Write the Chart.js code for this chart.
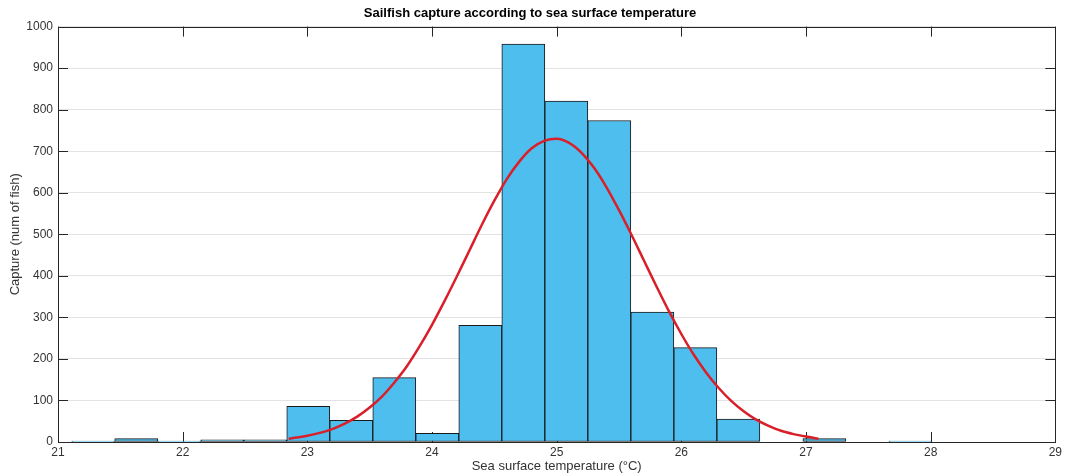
<!DOCTYPE html>
<html>
<head>
<meta charset="utf-8">
<script src="https://cdn.jsdelivr.net/npm/chart.js@4/dist/chart.umd.min.js"></script>
<style>
  body { margin: 0; background: #fff; }
  #wrap { width: 1065px; height: 476px; position: relative; }
</style>
</head>
<body>
<div id="wrap"><canvas id="chart"></canvas></div>
<script>
// histogram bin edges (°C) and counts per bin
const binEdges = [21.11, 21.455, 21.80, 22.145, 22.49, 22.835, 23.18, 23.525, 23.87, 24.215,
                  24.56, 24.905, 25.25, 25.595, 25.94, 26.285, 26.63, 26.975, 27.32, 27.665, 28.01];
const captureCounts = [2, 8, 2, 5, 5, 86, 52, 155, 21, 281, 958, 821, 774, 313, 227, 55, 0, 8, 0, 2];

// fitted curve
const curveX = [22.85, 22.9, 23.0, 23.1, 23.2, 23.3, 23.4, 23.5, 23.6, 23.7, 23.8, 23.9,
                24.0, 24.1, 24.2, 24.3, 24.4, 24.5, 24.6, 24.7, 24.8, 24.9,
                25.0, 25.1, 25.2, 25.3, 25.4, 25.5, 25.6, 25.7, 25.8, 25.9,
                26.0, 26.1, 26.2, 26.3, 26.4, 26.5, 26.6, 26.7, 26.8, 26.9, 27.0, 27.1];
const curveY = [8, 10, 15, 22, 31, 44, 61, 83, 110, 144, 183, 230,
                282, 339, 399, 461, 523, 581, 633, 675, 707, 725,
                730, 720, 696, 660, 613, 558, 499, 437, 375, 315,
                260, 210, 167, 130, 99, 74, 54, 39, 27, 19, 13, 8];

const xTicks = [21, 22, 23, 24, 25, 26, 27, 28, 29];
const yTicks = [0, 100, 200, 300, 400, 500, 600, 700, 800, 900, 1000];

const txt = '#333333';
const fontFam = '"Liberation Sans", Arial, Helvetica, sans-serif';

const barData = captureCounts.map((c, i) => ({ x: (binEdges[i] + binEdges[i + 1]) / 2, y: c }));
const lineData = curveX.map((x, i) => ({ x: x, y: curveY[i] }));

// MATLAB-like box with inward ticks on all sides
const boxTicks = {
  id: 'boxTicks',
  beforeDatasetsDraw(chart) {
    const { ctx, chartArea: a, scales: { x, y } } = chart;
    const len = 10;
    ctx.save();
    ctx.strokeStyle = '#262626';
    ctx.lineWidth = 1;
    ctx.beginPath();
    xTicks.forEach(v => {
      const px = Math.round(x.getPixelForValue(v)) + 0.5;
      ctx.moveTo(px, a.bottom); ctx.lineTo(px, a.bottom - len);
      ctx.moveTo(px, a.top); ctx.lineTo(px, a.top + len);
    });
    yTicks.forEach(v => {
      const py = Math.round(y.getPixelForValue(v)) + 0.5;
      ctx.moveTo(a.left, py); ctx.lineTo(a.left + len, py);
      ctx.moveTo(a.right, py); ctx.lineTo(a.right - len, py);
    });
    ctx.stroke();
    ctx.restore();
  },
  afterDatasetsDraw(chart) {
    const { ctx, chartArea: a } = chart;
    ctx.save();
    ctx.strokeStyle = '#262626';
    ctx.lineWidth = 1;
    ctx.strokeRect(Math.round(a.left) + 0.5, Math.round(a.top) + 0.5,
                   Math.round(a.right - a.left), Math.round(a.bottom - a.top));
    ctx.restore();
  }
};

new Chart(document.getElementById('chart'), {
  type: 'bar',
  data: {
    datasets: [
      {
        type: 'line',
        data: lineData,
        borderColor: '#d9202a',
        borderWidth: 2.5,
        pointRadius: 0,
        cubicInterpolationMode: 'monotone',
        fill: false,
        order: 0
      },
      {
        type: 'bar',
        data: barData,
        backgroundColor: '#4dbeee',
        borderColor: '#1a1a1a',
        borderWidth: 1,
        borderSkipped: false,
        barPercentage: 1,
        categoryPercentage: 1,
        order: 1
      }
    ]
  },
  options: {
    responsive: true,
    maintainAspectRatio: false,
    animation: false,
    layout: { padding: { left: 0, right: 5, top: 0, bottom: 0 } },
    plugins: {
      legend: { display: false },
      tooltip: { enabled: false },
      title: {
        display: true,
        text: 'Sailfish capture according to sea surface temperature',
        color: '#000',
        font: { family: fontFam, size: 13, weight: 'bold' },
        padding: { top: 6, bottom: 5 }
      }
    },
    scales: {
      x: {
        type: 'linear',
        min: 21,
        max: 29,
        offset: false,
        afterFit: s => { s.height = 34; },
        grid: { display: false, drawTicks: false, offset: false },
        border: { display: false },
        ticks: {
          stepSize: 1,
          color: txt,
          padding: 3,
          maxRotation: 0,
          font: { family: fontFam, size: 12 }
        },
        title: {
          display: true,
          text: 'Sea surface temperature (°C)',
          color: txt,
          font: { family: fontFam, size: 13 },
          padding: { top: 0, bottom: 2 }
        }
      },
      y: {
        min: 0,
        max: 1000,
        afterFit: s => { s.width = 58; },
        grid: { color: '#e3e3e3', lineWidth: 1, drawTicks: false },
        border: { display: false },
        ticks: {
          stepSize: 100,
          color: txt,
          padding: 5,
          callback: v => String(v),
          font: { family: fontFam, size: 12 }
        },
        title: {
          display: true,
          text: 'Capture (num of fish)',
          color: txt,
          font: { family: fontFam, size: 13 },
          padding: { top: 8, bottom: 0 }
        }
      }
    }
  },
  plugins: [boxTicks]
});
</script>
</body>
</html>
